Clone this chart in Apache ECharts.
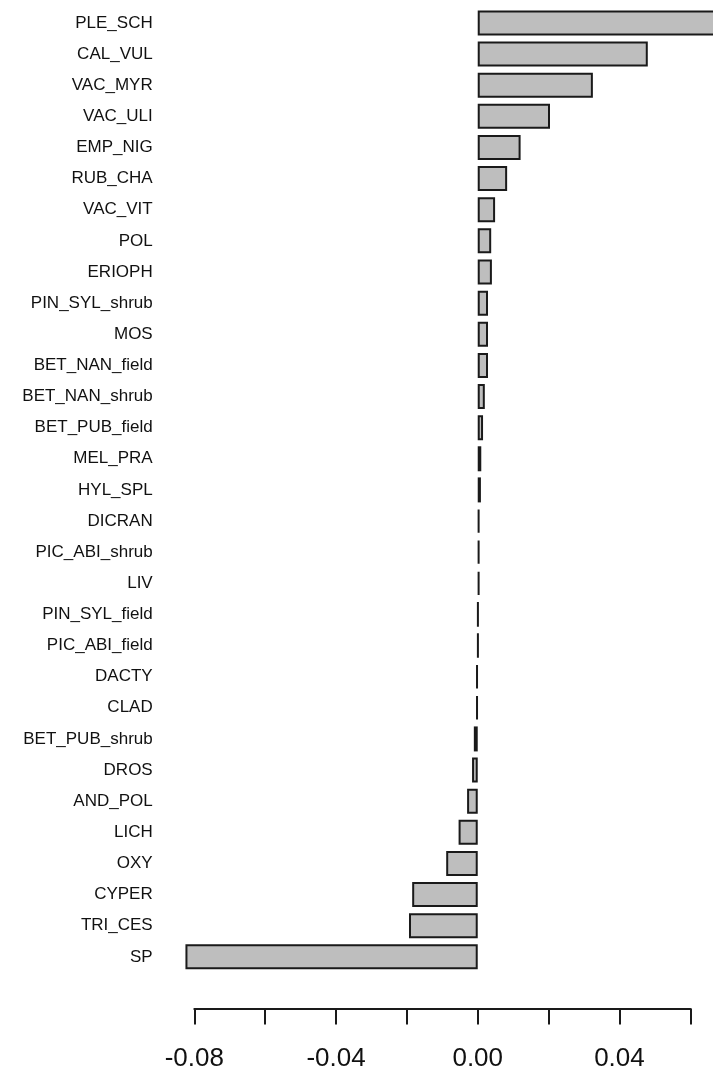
<!DOCTYPE html>
<html>
<head>
<meta charset="utf-8">
<script src="https://cdn.jsdelivr.net/npm/echarts@6/dist/echarts.min.js"></script>
<style>
html,body{margin:0;padding:0;background:#fff;}
#chart{width:713px;height:1072px;}
</style>
</head>
<body>
<div id="chart"></div>
<script>
const categories = ["PLE_SCH","CAL_VUL","VAC_MYR","VAC_ULI","EMP_NIG","RUB_CHA","VAC_VIT","POL","ERIOPH","PIN_SYL_shrub","MOS","BET_NAN_field","BET_NAN_shrub","BET_PUB_field","MEL_PRA","HYL_SPL","DICRAN","PIC_ABI_shrub","LIV","PIN_SYL_field","PIC_ABI_field","DACTY","CLAD","BET_PUB_shrub","DROS","AND_POL","LICH","OXY","CYPER","TRI_CES","SP"];
const values = [0.068,0.0480,0.0325,0.0204,0.0121,0.0083,0.0049,0.0038,0.0040,0.0029,0.0029,0.0029,0.0020,0.0015,0.0010,0.0009,0.0005,0.0005,0.0005,0.0001,0.0001,-0.0004,-0.0004,-0.0011,-0.0016,-0.0030,-0.0054,-0.0089,-0.0185,-0.0194,-0.0825];
const tickLabels = ["-0.08","-0.04","0.00","0.04"];

const chart = echarts.init(document.getElementById('chart'), null, {renderer:'canvas'});
const font = '"Liberation Sans", Arial, sans-serif';
chart.setOption({
  animation:false,
  backgroundColor:'#ffffff',
  grid:{left:194.3, right:22.7, top:7.4, bottom:99.6, containLabel:false},
  xAxis:{
    type:'value', min:-0.08, max:0.06, interval:0.02,
    offset:36,
    splitLine:{show:false},
    axisLine:{show:true, lineStyle:{color:'#1a1a1a', width:2}},
    axisTick:{show:true, length:16, lineStyle:{color:'#1a1a1a', width:2}},
    axisLabel:{
      show:true, margin:37, fontSize:26, fontFamily:font, color:'#111',
      formatter:function(v){ const s=(Math.round(v*100)/100).toFixed(2); return tickLabels.indexOf(s)>=0 ? s : ''; }
    }
  },
  yAxis:{
    type:'category', data:categories, inverse:true,
    axisLine:{show:false}, axisTick:{show:false}, splitLine:{show:false},
    axisLabel:{margin:41.6, fontSize:17, fontFamily:font, color:'#111', interval:0}
  },
  series:[{
    type:'bar', data:values, clip:false, barWidth:25,
    itemStyle:{color:'#bebebe', borderColor:'#1a1a1a', borderWidth:2}
  }]
});
</script>
</body>
</html>
